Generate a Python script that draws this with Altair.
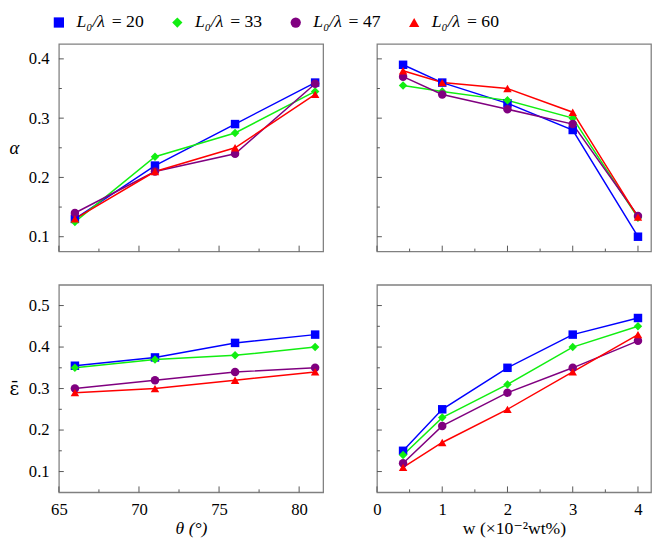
import altair as alt
import pandas as pd

series = ["L₀/λ = 20", "L₀/λ = 33", "L₀/λ = 47", "L₀/λ = 60"]
colors = ["#0000FF", "#11EE11", "#800080", "#FF0000"]
shapes = ["square", "diamond", "circle", "triangle-up"]

theta = [66, 71, 76, 81]
w = [0.4, 1, 2, 3, 4]

alpha_theta = [
    [0.13, 0.22, 0.29, 0.36],
    [0.125, 0.235, 0.275, 0.345],
    [0.14, 0.21, 0.24, 0.358],
    [0.13, 0.21, 0.25, 0.34],
]
alpha_w = [
    [0.39, 0.36, 0.325, 0.28, 0.10],
    [0.355, 0.345, 0.33, 0.30, 0.132],
    [0.37, 0.34, 0.315, 0.29, 0.135],
    [0.38, 0.36, 0.35, 0.31, 0.133],
]
eps_theta = [
    [0.355, 0.375, 0.41, 0.43],
    [0.35, 0.37, 0.38, 0.40],
    [0.30, 0.32, 0.34, 0.35],
    [0.29, 0.30, 0.32, 0.34],
]
eps_w = [
    [0.15, 0.25, 0.35, 0.43, 0.47],
    [0.14, 0.23, 0.31, 0.40, 0.45],
    [0.12, 0.21, 0.29, 0.35, 0.415],
    [0.11, 0.17, 0.25, 0.34, 0.43],
]

theta_major = [65, 70, 75, 80]
theta_minor = [67.5, 72.5, 77.5]
w_major = [0, 1, 2, 3, 4]
w_minor = [0.5, 1.5, 2.5, 3.5]
alpha_major = [0.1, 0.2, 0.3, 0.4]
alpha_minor = [0.15, 0.25, 0.35]
eps_major = [0.1, 0.2, 0.3, 0.4, 0.5]
eps_minor = [0.15, 0.25, 0.35, 0.45]

FONT = "Liberation Serif, DejaVu Serif, serif"
TICK = "#555555"


def make_df(xs, ys):
    rows = []
    for si, s in enumerate(series):
        for x, y in zip(xs, ys[si]):
            rows.append({"x": x, "y": y, "s": s, "o": si})
    return pd.DataFrame(rows)


cscale = alt.Scale(domain=series, range=colors)
sscale = alt.Scale(domain=series, range=shapes)


def panel(xs, ys, xdom, xmaj, xmin, xfmt, ydom, ymaj, ymin, width, height,
          xlabels, ylabels, xtitle, ytitle, xtitle_style="normal",
          ytitle_font=FONT, ytitle_style="italic"):
    df = make_df(xs, ys)
    xsc = alt.Scale(domain=xdom, nice=False, zero=False)
    ysc = alt.Scale(domain=ydom, nice=False, zero=False)
    xaxis = alt.Axis(values=xmaj, format=xfmt, ticks=False, domain=False, grid=False,
                     labels=xlabels, labelFlush=False, labelPadding=10,
                     labelFont=FONT, labelFontSize=17, labelColor="black",
                     title=xtitle, titleFont=FONT, titleFontSize=18,
                     titleFontStyle=xtitle_style,
                     titleFontWeight="normal", titleColor="black", titlePadding=2)
    yaxis = alt.Axis(values=ymaj, format=".1f", ticks=False, domain=False, grid=False,
                     labels=ylabels, labelPadding=10, labelFont=FONT, labelFontSize=17,
                     labelColor="black",
                     title=ytitle, titleAngle=0, titleX=-46, titleY=height / 2,
                     titleAlign="center", titleBaseline="middle",
                     titleFont=ytitle_font, titleFontSize=19, titleFontWeight="normal",
                     titleFontStyle=ytitle_style, titleColor="black")
    X = lambda f: alt.X(f, scale=xsc, axis=xaxis)
    Y = lambda f: alt.Y(f, scale=ysc, axis=yaxis)
    base = alt.Chart(df)
    line = base.mark_line(strokeWidth=1.5).encode(
        x=X("x:Q"), y=Y("y:Q"),
        color=alt.Color("s:N", scale=cscale, legend=None),
        order="x:Q",
    )
    pts = base.mark_point(filled=True, size=75, opacity=1).encode(
        x=X("x:Q"), y=Y("y:Q"),
        color=alt.Color("s:N", scale=cscale, legend=None),
        shape=alt.Shape("s:N", scale=sscale, legend=None),
        order="o:Q",
    )
    ymj = pd.DataFrame({"y": ymaj})
    ymn = pd.DataFrame({"y": ymin})
    xmj = pd.DataFrame({"x": xmaj})
    xmn = pd.DataFrame({"x": xmin})
    r1 = alt.Chart(ymj).mark_rule(color=TICK, strokeWidth=1).encode(
        y=Y("y:Q"), x=alt.value(0), x2=alt.value(5))
    r2 = alt.Chart(ymn).mark_rule(color=TICK, strokeWidth=1).encode(
        y=Y("y:Q"), x=alt.value(0), x2=alt.value(3))
    r3 = alt.Chart(xmj).mark_rule(color=TICK, strokeWidth=1).encode(
        x=X("x:Q"), y=alt.value(height), y2=alt.value(height - 6))
    r4 = alt.Chart(xmn).mark_rule(color=TICK, strokeWidth=1).encode(
        x=X("x:Q"), y=alt.value(height), y2=alt.value(height - 3))
    return alt.layer(line, pts, r1, r2, r3, r4).properties(
        width=width, height=height,
        view=alt.ViewBackground(stroke="#808080", strokeWidth=1.3))


tl = panel(theta, alpha_theta, [65, 81.5], theta_major, theta_minor, "d",
           [0.075, 0.425], alpha_major, alpha_minor, 270, 212, False, True, None, "α")
tr = panel(w, alpha_w, [0, 4.2], w_major, w_minor, "d",
           [0.075, 0.425], alpha_major, alpha_minor, 280, 212, False, False, None, None)
bl = panel(theta, eps_theta, [65, 81.5], theta_major, theta_minor, "d",
           [0.05, 0.55], eps_major, eps_minor, 270, 212, True, True, "θ (°)", "ε̄",
           xtitle_style="italic", ytitle_font="DejaVu Serif", ytitle_style="normal")
br = panel(w, eps_w, [0, 4.2], w_major, w_minor, "d",
           [0.05, 0.55], eps_major, eps_minor, 280, 212, True, False, "w (×10⁻²wt%)", None)

grid = alt.concat(tl, tr, bl, br, columns=2, spacing={"row": 31, "column": 49},
                  align="each")

# manual legend row
leg_df = pd.DataFrame({
    "s": series,
    "o": list(range(len(series))),
    "var": [s.split(" ", 1)[0] for s in series],
    "val": [s.split(" ", 1)[1] for s in series],
})
lx = alt.X("o:Q", scale=alt.Scale(domain=[0, 4], nice=False, zero=False), axis=None)
leg_base = alt.Chart(leg_df)
leg_pts = leg_base.mark_point(filled=True, size=110, opacity=1).encode(
    x=lx, y=alt.value(9),
    color=alt.Color("s:N", scale=cscale, legend=None),
    shape=alt.Shape("s:N", scale=sscale, legend=None),
)
leg_t1 = leg_base.mark_text(align="left", baseline="middle", dx=18, font=FONT,
                            fontSize=18, fontStyle="italic", color="black").encode(
    x=lx, y=alt.value(9), text="var:N")
leg_t2 = leg_base.mark_text(align="left", baseline="middle", dx=54, font=FONT,
                            fontSize=18, color="black").encode(
    x=lx, y=alt.value(9), text="val:N")
legend = alt.layer(leg_pts, leg_t1, leg_t2).properties(
    width=484, height=18,
    view=alt.ViewBackground(strokeOpacity=0, stroke="transparent"))

chart = alt.vconcat(legend, grid, spacing=12).properties(
    padding={"left": 0, "top": 0, "right": 0, "bottom": 0}
).configure_view(
    stroke="#808080", strokeWidth=1.3
).configure_concat(spacing=12)

chart.save("out.html", embed_options={"renderer": "svg", "actions": False})
